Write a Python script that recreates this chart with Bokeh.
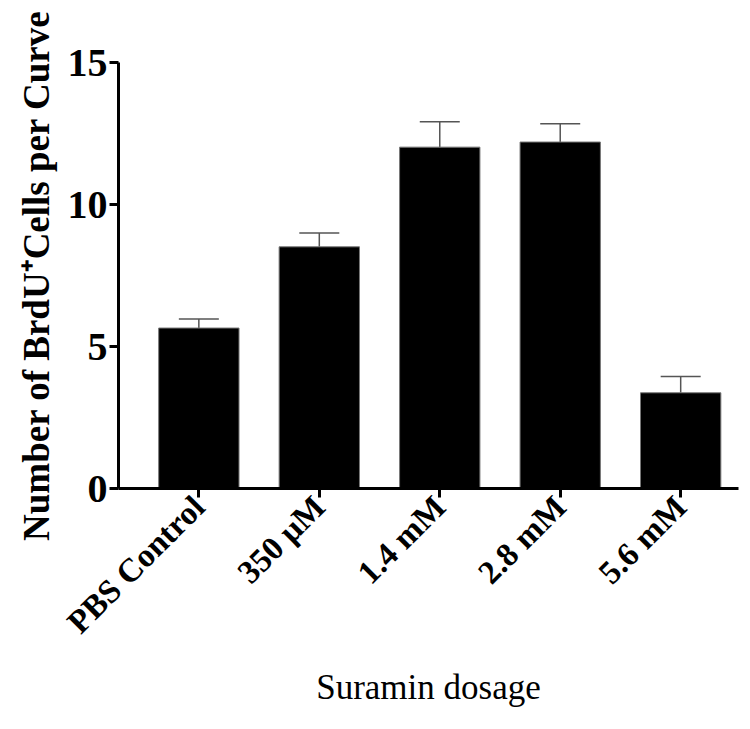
import math
from bokeh.plotting import figure
from bokeh.models import ColumnDataSource, Range1d, FixedTicker, Whisker, TeeHead
from bokeh.embed import file_html
from bokeh.resources import INLINE

categories = ["PBS Control", "350 \u03bcM", "1.4 mM", "2.8 mM", "5.6 mM"]
means = [5.65, 8.51, 12.02, 12.20, 3.37]
sems = [0.32, 0.49, 0.89, 0.64, 0.57]
y_ticks = [0, 5, 10, 15]

xs = list(range(len(categories)))
upper = [m + s for m, s in zip(means, sems)]
src = ColumnDataSource(dict(x=xs, top=means, upper=upper))

p = figure(width=750, height=729, output_backend="svg", toolbar_location=None,
           x_range=Range1d(-0.667, 4.48), y_range=Range1d(0, 15),
           min_border_left=118, min_border_right=12, min_border_top=62, min_border_bottom=241)
p.outline_line_color = None
p.grid.visible = False

p.vbar(x="x", top="top", width=0.667, bottom=0, source=src,
       fill_color="black", line_color="#777777", line_width=1)
w = Whisker(base="x", lower="top", upper="upper", source=src,
            line_color="#555555", line_width=1.5, lower_head=None,
            upper_head=TeeHead(size=40, line_color="#555555", line_width=1.5))
p.add_layout(w)

font = "Liberation Serif"
for ax in (p.xaxis[0], p.yaxis[0]):
    ax.axis_line_width = 3
    ax.major_tick_line_width = 3
    ax.major_tick_out = 9
    ax.major_tick_in = 0
    ax.minor_tick_line_color = None
    ax.major_label_text_font = font
    ax.major_label_text_font_style = "bold"
    ax.major_label_text_color = "black"
    ax.axis_label_text_font = font
    ax.axis_label_text_color = "black"

p.yaxis.ticker = FixedTicker(ticks=y_ticks)
p.yaxis.major_label_text_font_size = "40px"
p.yaxis.major_label_standoff = 2
p.yaxis.axis_label = "Number of BrdU\u207aCells per Curve"
p.yaxis.axis_label_text_font_size = "37px"
p.yaxis.axis_label_text_font_style = "bold"
p.yaxis.axis_label_standoff = 8

p.xaxis.ticker = FixedTicker(ticks=xs)
p.xaxis.major_label_overrides = {i: c for i, c in zip(xs, categories)}
p.xaxis.major_label_orientation = math.pi / 4
p.xaxis.major_label_text_font_size = "33px"
p.xaxis.major_label_standoff = 4
p.xaxis.axis_label = "Suramin dosage"
p.xaxis.axis_label_text_font_size = "35px"
p.xaxis.axis_label_text_font_style = "normal"
p.xaxis.axis_label_standoff = 12

open("out.html", "w").write(file_html(p, INLINE))
